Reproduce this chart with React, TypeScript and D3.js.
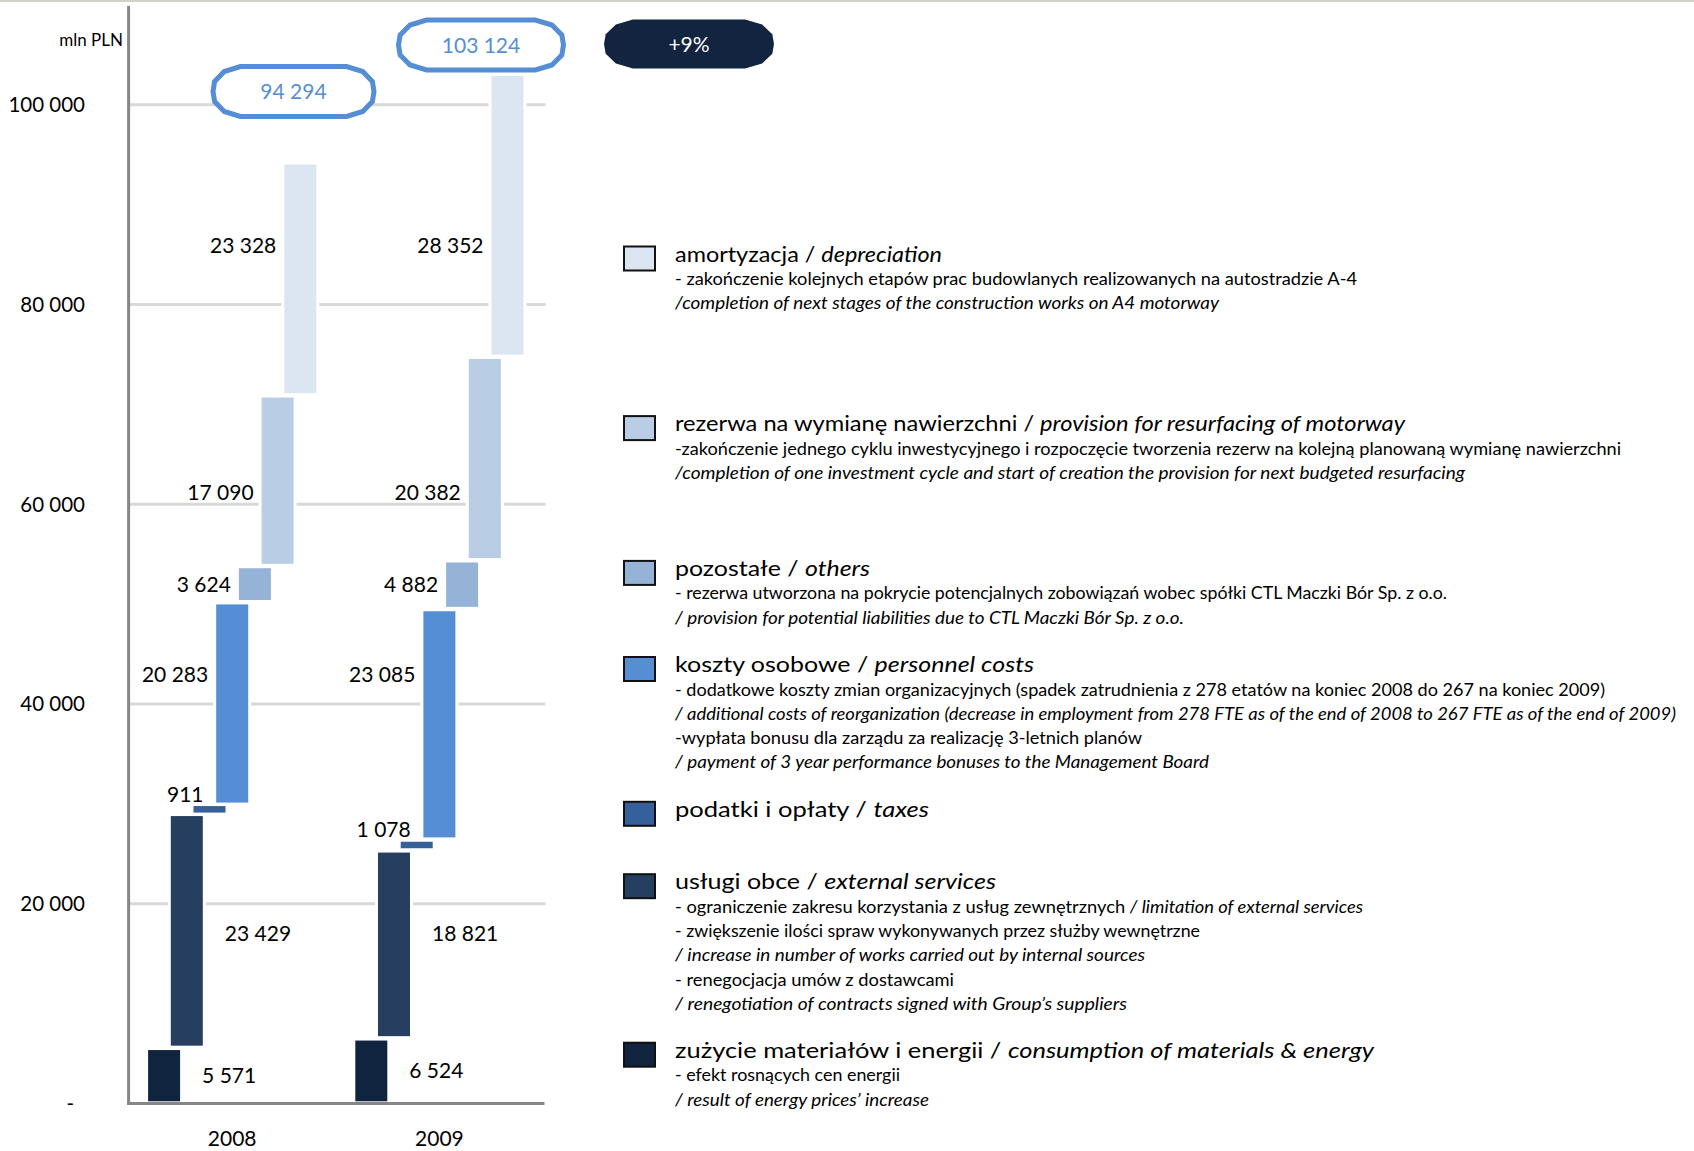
import React from 'react';
import * as d3 from 'd3';

// cost structure, mln PLN (bottom of the waterfall first)
const years = ['2008', '2009'];
const categories = [
  'zużycie materiałów i energii',
  'usługi obce',
  'podatki i opłaty',
  'koszty osobowe',
  'pozostałe',
  'rezerwa na wymianę nawierzchni',
  'amortyzacja',
];
const values2008 = [5571, 23429, 911, 20283, 3624, 17090, 23328];
const values2009 = [6524, 18821, 1078, 23085, 4882, 20382, 28352];
const totals = [94294, 103124];
const change = '+9%';
const yTicks = [0, 20000, 40000, 60000, 80000, 100000];

const colors = ['#11243f', '#263f60', '#36609a', '#558ed5', '#95b3d7', '#b9cde5', '#dce6f2'];

// legend (top to bottom) -> index into categories
const legendOrder = [6, 5, 4, 3, 2, 1, 0];
const legendTitles: [string, string][] = [
  ['amortyzacja', 'depreciation'],
  ['rezerwa na wymianę nawierzchni', 'provision for resurfacing of motorway'],
  ['pozostałe', 'others'],
  ['koszty osobowe', 'personnel costs'],
  ['podatki i opłaty', 'taxes'],
  ['usługi obce', 'external services'],
  ['zużycie materiałów i energii', 'consumption of materials & energy'],
];
// each line: [normal part, italic part]
const legendNotes: [string, string][][] = [
  [
    ['- zakończenie kolejnych etapów prac budowlanych realizowanych na autostradzie A-4', ''],
    ['', '/completion of next stages of the construction works on A4 motorway'],
  ],
  [
    ['-zakończenie jednego cyklu inwestycyjnego i rozpoczęcie tworzenia rezerw na kolejną planowaną wymianę nawierzchni', ''],
    ['', '/completion of one investment cycle and start of creation the provision for next budgeted resurfacing'],
  ],
  [
    ['- rezerwa utworzona na pokrycie potencjalnych zobowiązań wobec spółki CTL Maczki Bór Sp. z o.o.', ''],
    ['', '/ provision for potential liabilities due to CTL Maczki Bór Sp. z o.o.'],
  ],
  [
    ['- dodatkowe koszty zmian organizacyjnych (spadek zatrudnienia z 278 etatów na koniec 2008 do 267 na koniec 2009)', ''],
    ['', '/ additional costs of reorganization (decrease in employment from 278 FTE as of the end of 2008 to 267 FTE as of the end of 2009)'],
    ['-wypłata bonusu dla zarządu za realizację 3-letnich planów', ''],
    ['', '/ payment of 3 year performance bonuses to the Management Board'],
  ],
  [],
  [
    ['- ograniczenie zakresu korzystania z usług zewnętrznych ', '/ limitation of external services'],
    ['- zwiększenie ilości spraw wykonywanych przez służby wewnętrzne', ''],
    ['', '/ increase in number of works carried out by internal sources'],
    ['- renegocjacja umów z dostawcami', ''],
    ['', '/ renegotiation of contracts signed with Group’s suppliers'],
  ],
  [
    ['- efekt rosnących cen energii', ''],
    ['', '/ result of energy prices’ increase'],
  ],
];

// layout (px)
const legendY = [255, 424.6, 569.4, 665.5, 810.3, 882.7, 1051.2];
const titleW = [267, 730, 195, 359, 254, 321, 699];
const noteW = [[682, 544], [946, 790], [772, 509], [930, 1001, 467, 534], [], [688, 525, 470, 279, 452], [225, 254]];
// where the value labels sit: side of the bar and height (null = middle of bar)
const labelPlace: { side: string; at: number | null }[] = [
  { side: 'right', at: null },
  { side: 'right', at: 17000 },
  { side: 'above', at: null },
  { side: 'left', at: 43000 },
  { side: 'left', at: null },
  { side: 'left', at: 61200 },
  { side: 'left', at: 85900 },
];
const callouts = [
  { cx: 293.5, cy: 91.5, w: 161, h: 50 },
  { cx: 481, cy: 45, w: 165, h: 50 },
];
const changeBox = { cx: 689, cy: 44, w: 170, h: 49 };

const FONT = 'Lato, "Open Sans", sans-serif';
const fmt = d3.formatLocale({ decimal: ',', thousands: ' ', grouping: [3], currency: ['', ''] }).format(',d');

function octagon(cx: number, cy: number, w: number, h: number) {
  const pts = [
    [0.17, 0], [0.83, 0], [0.93, 0.1], [0.99, 0.3], [1, 0.5], [0.99, 0.7], [0.93, 0.9],
    [0.83, 1], [0.17, 1], [0.07, 0.9], [0.01, 0.7], [0, 0.5], [0.01, 0.3], [0.07, 0.1],
  ];
  return pts.map(([a, b]) => `${cx - w / 2 + a * w},${cy - h / 2 + b * h}`).join(' ');
}

export default function App() {
  const W = 1694;
  const H = 1151;
  const y = d3.scaleLinear().domain([0, 100000]).range([1103.5, 104.8]);
  const x = d3.scalePoint().domain(years).range([128.6, 543]).padding(0.5);
  const barW = 32;
  const barStep = 22.7;
  const gap = 2.2;
  const series = [values2008, values2009];

  const bars: any[] = [];
  series.forEach((vals, j) => {
    let base = 0;
    vals.forEach((v, i) => {
      const x0 = x(years[j])! - barW / 2 + (i - 3) * barStep;
      bars.push({ i, j, v, x0, y0: base, y1: base + v });
      base += v;
    });
  });

  return (
    <div style={{ position: 'absolute', left: 0, top: 0 }}>
      <svg width={W} height={H} style={{ display: 'block', background: '#fff' }} fontFamily={FONT}>
        <line x1={0} x2={W} y1={1} y2={1} stroke="#cfd3c8" strokeWidth={2} />

        {/* grid */}
        {yTicks.filter((t) => t > 0).map((t) => (
          <line key={t} x1={130} x2={545.5} y1={y(t)} y2={y(t)} stroke="#d9d9d9" strokeWidth={3} />
        ))}

        {/* y tick labels */}
        {yTicks.map((t) => (
          <text key={t} x={t === 0 ? 74 : 85} y={y(t)} dy="0.36em" textAnchor="end" fontSize={20.5} fill="#000">
            {t === 0 ? '-' : fmt(t)}
          </text>
        ))}
        <text x={123} y={46} textAnchor="end" fontSize={17} fill="#000">mln PLN</text>

        {/* white halo behind bars (cuts the grid lines) */}
        {bars.map((b) => (
          <rect key={`h${b.j}-${b.i}`} x={b.x0 - 3} y={y(b.y1) - gap} width={barW + 6} height={y(b.y0) - y(b.y1) + 2 * gap} fill="#fff" />
        ))}
        {bars.map((b) => {
          const hgt = Math.max(6.5, y(b.y0) - y(b.y1) - 2 * gap);
          const mid = (y(b.y0) + y(b.y1)) / 2;
          return (
            <rect
              key={`${b.j}-${b.i}`}
              x={b.x0}
              y={Math.min(y(b.y1) + gap, mid - hgt / 2)}
              width={barW}
              height={hgt}
              fill={colors[b.i]}
            />
          );
        })}

        {/* value labels */}
        {bars.map((b) => {
          const p = labelPlace[b.i];
          if (p.side === 'above') {
            return (
              <text key={`l${b.j}-${b.i}`} x={b.x0 + 10} y={y(b.y1) - 3} textAnchor="end" fontSize={21} fill="#000">
                {fmt(b.v)}
              </text>
            );
          }
          const yy = y(p.at == null ? (b.y0 + b.y1) / 2 : p.at);
          return p.side === 'right' ? (
            <text key={`l${b.j}-${b.i}`} x={b.x0 + barW + 22} y={yy} dy="0.36em" fontSize={21} fill="#000">
              {fmt(b.v)}
            </text>
          ) : (
            <text key={`l${b.j}-${b.i}`} x={b.x0 - 8} y={yy} dy="0.36em" textAnchor="end" fontSize={21} fill="#000">
              {fmt(b.v)}
            </text>
          );
        })}

        {/* axes */}
        <line x1={128.6} x2={128.6} y1={6} y2={1104.5} stroke="#878787" strokeWidth={3} />
        <line x1={127} x2={544.5} y1={1103.5} y2={1103.5} stroke="#878787" strokeWidth={3} />
        {years.map((yr) => (
          <text key={yr} x={x(yr)} y={1146} textAnchor="middle" fontSize={21} fill="#000">{yr}</text>
        ))}

        {/* totals */}
        {totals.map((t, j) => (
          <g key={t}>
            <polygon points={octagon(callouts[j].cx, callouts[j].cy, callouts[j].w, callouts[j].h)} fill="#fff" stroke="#558ed5" strokeWidth={5} />
            <text x={callouts[j].cx} y={callouts[j].cy} dy="0.36em" textAnchor="middle" fontSize={21} fill="#558ed5">{fmt(t)}</text>
          </g>
        ))}
        <polygon points={octagon(changeBox.cx, changeBox.cy, changeBox.w, changeBox.h)} fill="#12243f" />
        <text x={changeBox.cx} y={changeBox.cy} dy="0.36em" textAnchor="middle" fontSize={21} fill="#fff">{change}</text>

        {/* legend */}
        {legendOrder.map((ci, k) => {
          const ty = legendY[k];
          return (
            <g key={ci}>
              <rect x={624} y={ty - 8.5} width={31} height={24} fill={colors[ci]} stroke="#111" strokeWidth={2} />
              <text x={675} y={ty + 6.5} fontSize={21.5} fill="#000" textLength={titleW[k]} lengthAdjust="spacingAndGlyphs">
                {legendTitles[k][0] + ' / '}
                <tspan fontStyle="italic">{legendTitles[k][1]}</tspan>
              </text>
              {legendNotes[k].map((ln, n) => (
                <text key={n} x={675} y={ty + 25 + n * 24.3 + 5} fontSize={16.5} fill="#000" textLength={noteW[k][n]} lengthAdjust="spacingAndGlyphs">
                  {ln[0]}
                  {ln[1] && <tspan fontStyle="italic">{ln[1]}</tspan>}
                </text>
              ))}
            </g>
          );
        })}
      </svg>
    </div>
  );
}
